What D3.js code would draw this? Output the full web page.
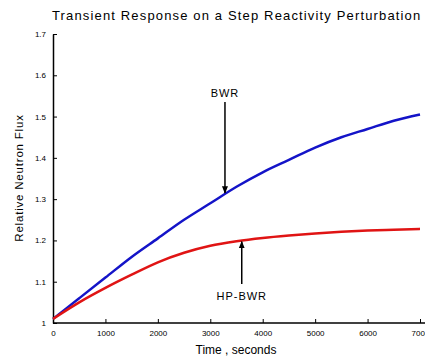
<!DOCTYPE html>
<html lang="en">
<head>
    <meta charset="UTF-8">
    <title>Transient Response</title>
    <script src="https://d3js.org/d3.v7.min.js"></script>
    <style>
        body { margin: 0; background: #fff; font-family: "Liberation Sans", Arial, sans-serif; }
        svg { display: block; }
        .tick text { font-size: 8px; fill: #000; }
    </style>
</head>
<body>
    <svg width="425" height="359"></svg>
    <script>
        // values
        const times = [0, 500, 1000, 1500, 2000, 2500, 3000, 3500, 4000, 4500, 5000, 5500, 6000, 6500, 7000];
        const bwr = [1.01, 1.06, 1.11, 1.16, 1.205, 1.25, 1.29, 1.33, 1.365, 1.395, 1.425, 1.45, 1.47, 1.49, 1.505];
        const hpbwr = [1.01, 1.05, 1.085, 1.117, 1.147, 1.17, 1.187, 1.198, 1.206, 1.212, 1.217, 1.221, 1.224, 1.226, 1.228];
        const xTicks = [0, 1000, 2000, 3000, 4000, 5000, 6000, 7000];
        const yTicks = [1.0, 1.1, 1.2, 1.3, 1.4, 1.5, 1.6, 1.7];

        const svg = d3.select("svg");
        const x = d3.scaleLinear().domain([0, 7000]).range([53, 420]);
        const y = d3.scaleLinear().domain([1.0, 1.7]).range([323, 34]);

        // axes, ticks pointing inward like matlab
        const xAxis = svg.append("g")
            .attr("transform", "translate(0,323)")
            .call(d3.axisBottom(x).tickValues(xTicks).tickSizeInner(-4).tickSizeOuter(0).tickPadding(7)
                .tickFormat(d3.format("d")));
        xAxis.select(".domain").attr("d", "M53,0H425").attr("stroke-width", 1.5);

        const yAxis = svg.append("g")
            .attr("transform", "translate(53,0)")
            .call(d3.axisLeft(y).tickValues(yTicks).tickSizeInner(-4).tickSizeOuter(0).tickPadding(7)
                .tickFormat(d => d === 1 ? "1" : d3.format(".1f")(d)));
        yAxis.select(".domain").attr("stroke-width", 1.5);

        const line = d3.line()
            .x((d, i) => x(times[i]))
            .y(d => y(d))
            .curve(d3.curveMonotoneX);

        svg.append("path").datum(bwr)
            .attr("d", line).attr("fill", "none")
            .attr("stroke", "#1414c8").attr("stroke-width", 2.5);
        svg.append("path").datum(hpbwr)
            .attr("d", line).attr("fill", "none")
            .attr("stroke", "#e01414").attr("stroke-width", 2.5);

        // arrows
        svg.append("defs").append("marker")
            .attr("id", "ah").attr("viewBox", "0 0 10 10")
            .attr("refX", 9).attr("refY", 5)
            .attr("markerWidth", 5).attr("markerHeight", 5)
            .attr("orient", "auto-start-reverse")
            .append("path").attr("d", "M0,1L10,5L0,9z").attr("fill", "#000");

        const interp = (arr, t) => d3.scaleLinear().domain(times).range(arr)(t);

        const tB = 3280, tH = 3600;
        svg.append("line")
            .attr("x1", x(tB)).attr("y1", 102)
            .attr("x2", x(tB)).attr("y2", y(interp(bwr, tB)) - 1)
            .attr("stroke", "#000").attr("stroke-width", 1.5)
            .attr("marker-end", "url(#ah)");
        svg.append("text").attr("x", x(tB)).attr("y", 97)
            .attr("text-anchor", "middle").attr("font-size", 11)
            .attr("letter-spacing", 1)
            .text("BWR");

        svg.append("line")
            .attr("x1", x(tH)).attr("y1", 284)
            .attr("x2", x(tH)).attr("y2", y(interp(hpbwr, tH)) + 1)
            .attr("stroke", "#000").attr("stroke-width", 1.5)
            .attr("marker-end", "url(#ah)");
        svg.append("text").attr("x", x(tH)).attr("y", 300)
            .attr("text-anchor", "middle").attr("font-size", 11)
            .attr("letter-spacing", 1)
            .text("HP-BWR");

        // titles (title runs past the right edge, as in the original)
        svg.append("text").attr("x", 52).attr("y", 20)
            .attr("font-size", 13).attr("letter-spacing", 1.15)
            .text("Transient Response on a Step Reactivity Perturbation");
        svg.append("text").attr("x", 236).attr("y", 354)
            .attr("text-anchor", "middle").attr("font-size", 12)
            .text("Time , seconds");
        svg.append("text")
            .attr("transform", "translate(23,178) rotate(-90)")
            .attr("text-anchor", "middle").attr("font-size", 11.5)
            .attr("letter-spacing", 0.8)
            .text("Relative Neutron Flux");
    </script>
</body>
</html>
